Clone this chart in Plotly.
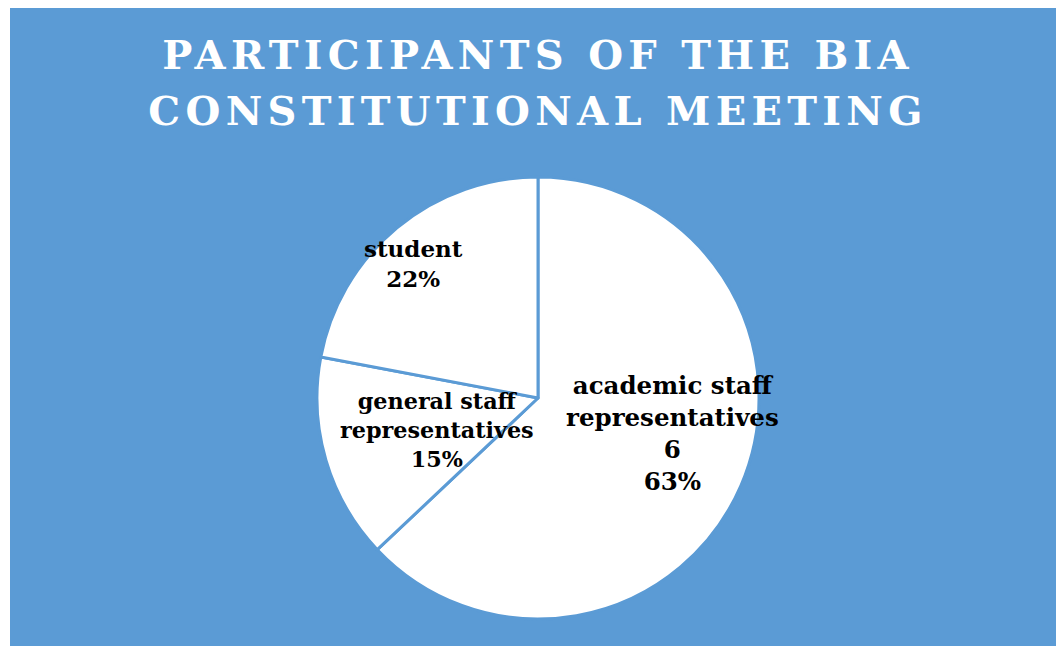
import plotly.graph_objects as go

# Participant groups and their counts
categories = ["academic staff<br>representatives", "general staff<br>representatives", "student"]
values = [6, 1.43, 2.1]
show_value = [True, False, False]

BLUE = "#5B9BD5"
W, H = 1056, 646
L, R, T, B = 20, 0, 177, 27
pw, ph = W - L - R, H - T - B
CX, CY = L + pw / 2, T + ph / 2  # pie centre in pixels

# label placement inside each slice (pixel offset from pie centre) and font size
label_offsets_px = [(134, 35), (-101, 32), (-125, -135)]
label_sizes = [24.5, 22.3, 23]

fig = go.Figure(
    go.Pie(
        labels=categories,
        values=values,
        sort=False,
        direction="clockwise",
        rotation=0,
        textinfo="none",
        marker=dict(colors=["white"] * 3, line=dict(color=BLUE, width=3)),
        hoverinfo="skip",
        showlegend=False,
    )
)

total = sum(values)
annotations = []
for cat, val, sv, (dx, dy), fs in zip(categories, values, show_value, label_offsets_px, label_sizes):
    pct = f"{round(100 * val / total):d}%"
    txt = f"{cat}<br>{val:g}<br>{pct}" if sv else f"{cat}<br>{pct}"
    annotations.append(
        dict(
            text=txt,
            x=(CX + dx - L) / pw,
            y=(H - B - (CY + dy)) / ph,
            xref="paper",
            yref="paper",
            xanchor="center",
            yanchor="middle",
            showarrow=False,
            align="center",
            font=dict(family="DejaVu Serif", size=fs, color="black", weight="bold"),
        )
    )

fig.update_layout(
    width=W,
    height=H,
    margin=dict(l=L, r=R, t=T, b=B, autoexpand=False),
    paper_bgcolor="white",
    title=dict(
        text="PARTICIPANTS OF THE BIA<br>CONSTITUTIONAL MEETING",
        x=0.5,
        xref="paper",
        xanchor="center",
        y=1 - 69 / H,
        yref="container",
        yanchor="middle",
        font=dict(family="DejaVu Serif", size=40, color="white", weight="bold"),
    ),
    annotations=annotations,
    shapes=[
        dict(
            type="rect",
            xref="paper",
            yref="paper",
            x0=-(L - 10) / pw,
            x1=1 + R / pw,
            y0=-B / ph,
            y1=1 + (T - 8) / ph,
            fillcolor=BLUE,
            line=dict(width=0),
            layer="below",
        )
    ],
)

# widen the title letter spacing and its line gap
post = """
var gd = document.getElementById('{plot_id}');
gd.querySelectorAll('.gtitle').forEach(function(t) {
  t.style.letterSpacing = '5.3px';
  var ls = t.querySelectorAll('tspan.line');
  if (ls.length > 1) { ls[1].setAttribute('dy', '1.4em'); }
});
"""

fig.write_html("out.html", post_script=post)
